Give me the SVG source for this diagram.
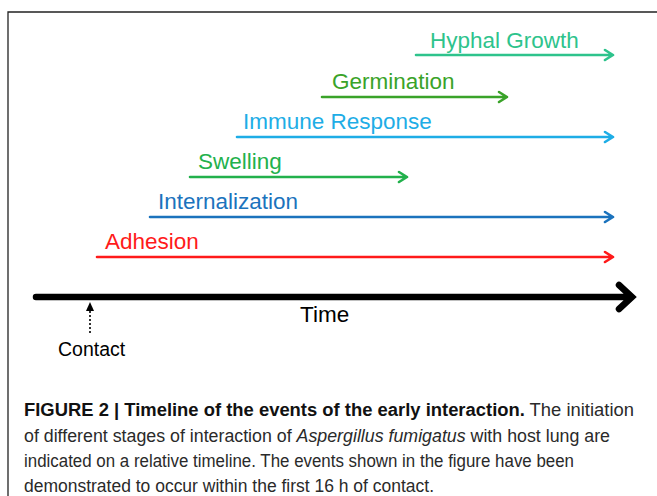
<svg xmlns="http://www.w3.org/2000/svg" width="657" height="496" viewBox="0 0 657 496">
<style>
.lbl{font-family:"Liberation Sans",Arial,sans-serif;font-size:22.5px}
.ln{fill:none;stroke-width:2.6;stroke-linecap:round;stroke-linejoin:round}
.cap{font-family:"Liberation Sans",Arial,sans-serif;font-size:17.5px;fill:#2a2a2a}
</style>
<rect width="657" height="496" fill="#fff"/>
<path d="M8 496V12H657" fill="none" stroke="#222" stroke-width="1.3"/>
<g id="connectors">
<g id="hyphal-arrow" stroke="#2ec38c"><path class="ln" d="M416 55H613M605 50L613 55L605 60"/></g>
<g id="germination-arrow" stroke="#3aa329"><path class="ln" d="M322 97H507M499 92L507 97L499 102"/></g>
<g id="immune-arrow" stroke="#1eade6"><path class="ln" d="M237 137H613M605 132L613 137L605 142"/></g>
<g id="swelling-arrow" stroke="#22b14c"><path class="ln" d="M190 177H407M399 172L407 177L399 182"/></g>
<g id="internalization-arrow" stroke="#1b73bd"><path class="ln" d="M150 217H613M605 212L613 217L605 222"/></g>
<g id="adhesion-arrow" stroke="#ff1a1a"><path class="ln" d="M97 257H613M605 252L613 257L605 262"/></g>
<g id="time-axis" stroke="#000"><path d="M36 297H630M619 285L632 297L619 309" fill="none" stroke-width="6.5" stroke-linecap="round" stroke-linejoin="miter"/></g>
<g id="contact-arrow"><path d="M90 333V308" stroke="#000" stroke-width="1.6" stroke-dasharray="2 2" fill="none"/><path d="M86 311L90 302L94 311Z" fill="#000"/></g>
</g>
<g id="hyphal"><text class="lbl" x="430" y="48" fill="#2ec38c">Hyphal Growth</text></g>
<g id="germination"><text class="lbl" x="332" y="89" fill="#3aa329">Germination</text></g>
<g id="immune"><text class="lbl" x="243" y="129" fill="#1eade6">Immune Response</text></g>
<g id="swelling"><text class="lbl" x="198" y="169" fill="#22b14c">Swelling</text></g>
<g id="internalization"><text class="lbl" x="158" y="209" fill="#1b73bd">Internalization</text></g>
<g id="adhesion"><text class="lbl" x="105" y="249" fill="#ff1a1a">Adhesion</text></g>
<g id="time"><text class="lbl" x="300" y="322" fill="#000">Time</text></g>
<g id="contact"><text x="58" y="356" font-family="'Liberation Sans',Arial,sans-serif" font-size="19.5" fill="#000">Contact</text></g>
<g id="caption">
<text class="cap" x="24" y="416" textLength="610" lengthAdjust="spacingAndGlyphs"><tspan font-weight="bold" fill="#111">FIGURE 2 | Timeline of the events of the early interaction.</tspan> The initiation</text>
<text class="cap" x="24" y="442" textLength="586" lengthAdjust="spacingAndGlyphs">of different stages of interaction of <tspan font-style="italic">Aspergillus fumigatus</tspan> with host lung are</text>
<text class="cap" x="24" y="467" textLength="550" lengthAdjust="spacingAndGlyphs">indicated on a relative timeline. The events shown in the figure have been</text>
<text class="cap" x="24" y="492" textLength="410" lengthAdjust="spacingAndGlyphs">demonstrated to occur within the first 16 h of contact.</text>
</g>
</svg>
